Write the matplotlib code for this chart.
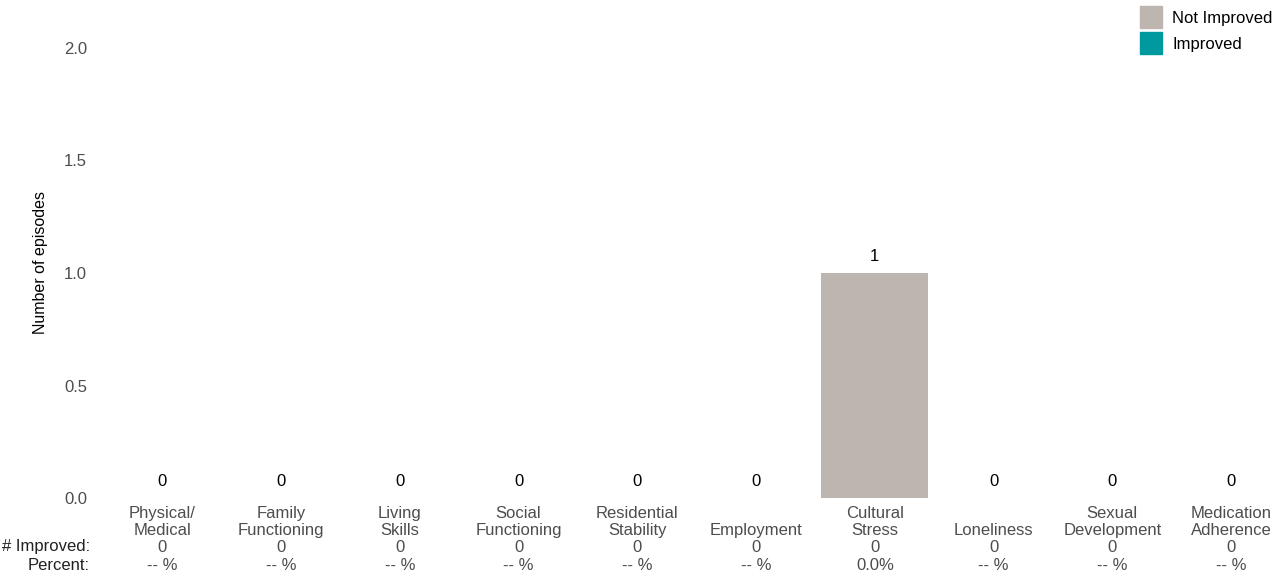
import matplotlib
matplotlib.use("Agg")
import matplotlib.pyplot as plt
import matplotlib.transforms as mtransforms
from matplotlib.patches import Rectangle
import numpy as np

# domaines et nombre d'episodes
categories = ["Physical/\nMedical", "Family\nFunctioning", "Living\nSkills", "Social\nFunctioning",
              "Residential\nStability", "Employment", "Cultural\nStress", "Loneliness",
              "Sexual\nDevelopment", "Medication\nAdherence"]
not_improved = [0, 0, 0, 0, 0, 0, 1, 0, 0, 0]
improved = [0, 0, 0, 0, 0, 0, 0, 0, 0, 0]
yticks = [0.0, 0.5, 1.0, 1.5, 2.0]
series = ["Not Improved", "Improved"]

col_not = "#BDB5AF"
col_imp = "#00999F"
gris = "#4d4d4d"
W, H = 1277, 577

plt.rcParams['font.family'] = ['Liberation Sans', 'DejaVu Sans']

fig = plt.figure(figsize=(W / 100, H / 100), dpi=100)
# axes: gauche 103px, droite 1277px, bas y=498, haut ~ y(2.1)
ax = fig.add_axes([103 / W, (H - 498) / H, (W - 103) / W, (498 - 25.5) / H])

x = np.arange(len(categories))
ni = np.array(not_improved)
im = np.array(improved)
ax.bar(x, ni, width=0.9, color=col_not)
ax.bar(x, im, width=0.9, bottom=ni, color=col_imp)

ax.set_xlim(-0.5, (W - 162) / 118.78)
ax.set_ylim(0, 2.1)
ax.set_yticks(yticks)
ax.set_yticklabels([f"{v:.1f}" for v in yticks], fontsize=12, color=gris)
ax.tick_params(axis="y", length=0, pad=11.5)
ax.set_xticks([])
for s in ax.spines.values():
    s.set_visible(False)
fig.text(41 / W, 1 - 263 / H, "Number of episodes", rotation=90, ha="center", va="center", fontsize=11.5)

# x en donnees, y en fraction de la figure
tr = mtransforms.blended_transform_factory(ax.transData, fig.transFigure)

tot = ni + im
for i in range(len(categories)):
    ax.annotate(str(tot[i]), (x[i], tot[i]), xytext=(0, 12.2), textcoords="offset points",
                ha="center", va="center", fontsize=12, color="black")
    ax.text(x[i], 1 - 535 / H, categories[i], transform=tr, ha="center", va="baseline",
            fontsize=12, color=gris, linespacing=1.2)
    pct = "-- %" if tot[i] == 0 else f"{100 * im[i] / tot[i]:.1f}%"
    ax.text(x[i], 1 - 547 / H, str(im[i]), transform=tr, ha="center", va="center", fontsize=12, color=gris)
    ax.text(x[i], 1 - 565 / H, pct, transform=tr, ha="center", va="center", fontsize=12, color=gris)

fig.text(90 / W, 1 - 547 / H, "# Improved:", ha="right", va="center", fontsize=12, color="#222222")
fig.text(90 / W, 1 - 565 / H, "Percent:", ha="right", va="center", fontsize=12, color="#222222")

# legende dessinee a la main (pixels)
for k, (lab, c) in enumerate(zip(series, [col_not, col_imp])):
    top = 6 + 26 * k
    fig.add_artist(Rectangle((1140 / W, 1 - (top + 22) / H), 22 / W, 22 / H,
                             transform=fig.transFigure, color=c))
    fig.text(1172 / W, 1 - (top + 13) / H, lab, ha="left", va="center", fontsize=12, color="black")

fig.savefig("out.png", dpi=100)
